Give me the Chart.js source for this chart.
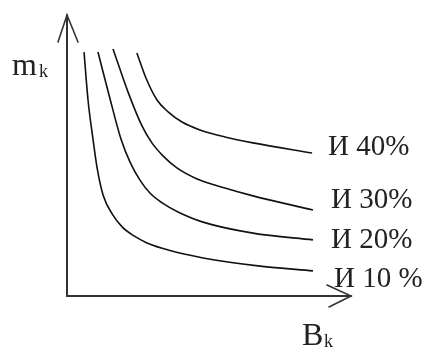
<!DOCTYPE html>
<html lang="ru">
<head>
    <meta charset="UTF-8">
    <title>m_k от B_k</title>
    <script src="https://cdn.jsdelivr.net/npm/chart.js"></script>
    <style>
        body {
            margin: 0;
            background-color: white;
        }
        #chart {
            display: block;
        }
    </style>
</head>
<body>
    <canvas id="chart" width="428" height="354"></canvas>

    <script>
        // подписи кривых
        const seriesLabels = ['И 10 %', 'И 20%', 'И 30%', 'И 40%'];

        // B_k (ось x, 0..100) и m_k (ось y, 0..100) для каждой кривой
        const bk10 = [6.0, 7.4, 9.2, 10.6, 12.7, 15.9, 19.4, 23.6, 28.2, 36.3, 47.9, 68.0, 86.6];
        const mk10 = [86.5, 69.5, 55.3, 45.4, 35.8, 29.1, 24.5, 21.3, 18.8, 16.1, 13.5, 10.6, 8.9];

        const bk20 = [10.9, 14.8, 19.0, 22.2, 25.7, 29.2, 33.5, 39.1, 47.9, 65.5, 86.6];
        const mk20 = [86.5, 71.3, 55.7, 47.5, 41.1, 36.5, 33.0, 29.8, 26.2, 22.3, 19.9];

        const bk30 = [16.2, 21.5, 26.4, 29.9, 33.8, 38.7, 45.8, 55.6, 65.5, 86.6];
        const mk30 = [87.6, 72.3, 60.3, 54.3, 49.7, 45.4, 41.5, 38.3, 35.5, 30.5];

        const bk40 = [24.6, 27.8, 31.7, 35.6, 40.5, 46.8, 55.6, 65.5, 86.3];
        const mk40 = [86.2, 77.3, 69.5, 65.3, 61.7, 58.9, 56.4, 54.3, 50.7];

        const xTitle = 'B';
        const yTitle = 'm';
        const subTitle = 'k';

        const curves = [[bk10, mk10], [bk20, mk20], [bk30, mk30], [bk40, mk40]];
        // сдвиг подписи относительно конца кривой
        const labelShift = [[21, 16], [18, 8], [18, -2], [16, 2]];

        const serif = '"Liberation Serif", "DejaVu Serif", serif';

        const sketchPlugin = {
            id: 'sketch',
            afterDatasetsDraw(chart) {
                const ctx = chart.ctx;
                const a = chart.chartArea;
                ctx.save();
                ctx.strokeStyle = '#333';
                ctx.lineWidth = 2;
                ctx.lineCap = 'round';

                // оси
                ctx.beginPath();
                ctx.moveTo(a.left, a.top + 1);
                ctx.lineTo(a.left, a.bottom);
                ctx.lineTo(a.right, a.bottom);
                ctx.stroke();

                // стрелки
                ctx.lineWidth = 1.6;
                ctx.beginPath();
                ctx.moveTo(a.left - 9, a.top + 28);
                ctx.lineTo(a.left, a.top + 1);
                ctx.lineTo(a.left + 11, a.top + 28);
                ctx.moveTo(a.right - 24, a.bottom - 11);
                ctx.lineTo(a.right, a.bottom);
                ctx.lineTo(a.right - 22, a.bottom + 11);
                ctx.stroke();

                ctx.fillStyle = '#222';
                ctx.textBaseline = 'alphabetic';
                ctx.textAlign = 'left';

                // подписи осей
                ctx.font = '32px ' + serif;
                ctx.fillText(yTitle, 12, 75);
                ctx.fillText(xTitle, 302, 345);
                ctx.font = '18px ' + serif;
                ctx.fillText(subTitle, 39, 77);
                ctx.fillText(subTitle, 324, 347);

                // подписи кривых
                ctx.font = '29px ' + serif;
                chart.data.datasets.forEach((ds, i) => {
                    const pts = chart.getDatasetMeta(i).data;
                    const last = pts[pts.length - 1];
                    ctx.fillText(seriesLabels[i], last.x + labelShift[i][0], last.y + labelShift[i][1]);
                });
                ctx.restore();
            }
        };

        new Chart(document.getElementById('chart'), {
            type: 'scatter',
            data: {
                datasets: curves.map((c, i) => ({
                    label: seriesLabels[i],
                    data: c[0].map((x, j) => ({ x: x, y: c[1][j] })),
                    showLine: true,
                    borderColor: '#111',
                    borderWidth: 1.6,
                    pointRadius: 0,
                    cubicInterpolationMode: 'monotone',
                    fill: false
                }))
            },
            options: {
                responsive: false,
                devicePixelRatio: 1,
                animation: false,
                layout: {
                    padding: { left: 67, right: 77, top: 14, bottom: 58 }
                },
                plugins: {
                    legend: { display: false },
                    tooltip: { enabled: false }
                },
                scales: {
                    x: { type: 'linear', min: 0, max: 100, display: false },
                    y: { type: 'linear', min: 0, max: 100, display: false }
                }
            },
            plugins: [sketchPlugin]
        });
    </script>
</body>
</html>
